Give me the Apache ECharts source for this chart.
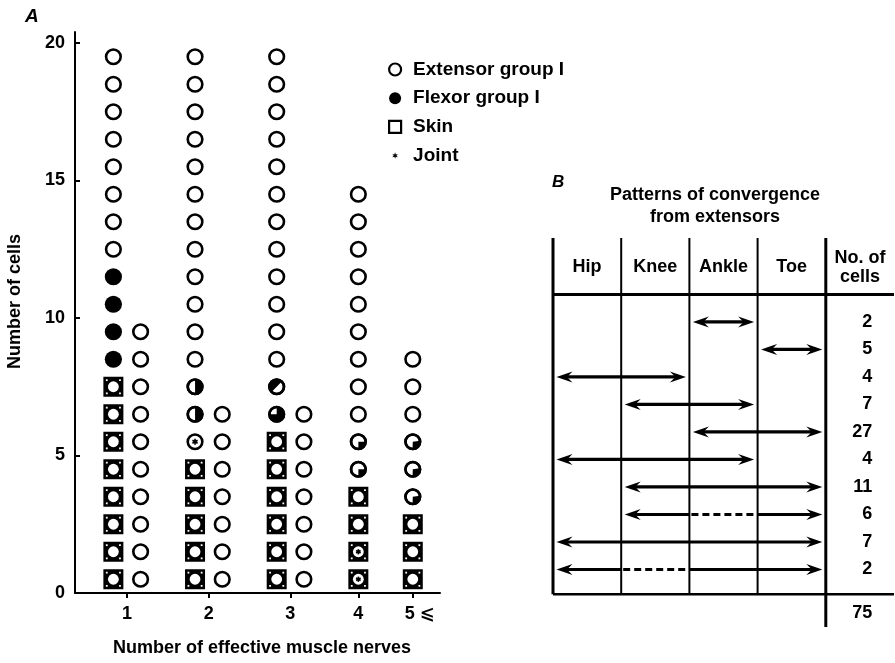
<!DOCTYPE html>
<html><head><meta charset="utf-8">
<script src="https://cdn.jsdelivr.net/npm/echarts@6/dist/echarts.min.js"></script>
<style>html,body{margin:0;padding:0;background:#fff}#c{width:895px;height:663px}</style>
</head><body><div id="c"></div>
<script>
// ---------------- DATA ----------------
// Panel A: marker codes per column, bottom -> top
// E = extensor circle, F = flexor (filled), S = skin (+extensor), J = joint (+extensor),
// SJ = skin + joint, H/Q3/D/Q/W = extensor with partial flexor fill
const groupLabels = ['1', '2', '3', '4', '5 \u2A7D'];
const yTickValues = [0, 5, 10, 15, 20];
const group1Left  = ['S','S','S','S','S','S','S','S','F','F','F','F','E','E','E','E','E','E','E','E'];
const group1Right = ['E','E','E','E','E','E','E','E','E','E'];
const group2Left  = ['S','S','S','S','S','J','H','H','E','E','E','E','E','E','E','E','E','E','E','E'];
const group2Right = ['E','E','E','E','E','E','E'];
const group3Left  = ['S','S','S','S','S','S','Q3','D','E','E','E','E','E','E','E','E','E','E','E','E'];
const group3Right = ['E','E','E','E','E','E','E'];
const group4Marks = ['SJ','SJ','S','S','Q','Q','E','E','E','E','E','E','E','E','E'];
const group5Marks = ['S','S','S','W','W','W','E','E','E'];
const legendNames = ['Extensor group I', 'Flexor group I', 'Skin', 'Joint'];

// Panel B
const bTitle = 'Patterns of convergence\nfrom extensors';
const bColumns = ['Hip', 'Knee', 'Ankle', 'Toe'];
const bCountHeader = 'No. of\ncells';
const patternStart  = [2, 3, 0, 1, 2, 0, 1, 1, 0, 0];
const patternEnd    = [2, 3, 1, 2, 3, 2, 3, 3, 3, 3];
const patternDashed = [null, null, null, null, null, null, null, 2, null, 1];
const cellCounts    = [2, 5, 4, 7, 27, 4, 11, 6, 7, 2];
const cellTotal = 75;

// ---------------- LAYOUT / STYLE ----------------
const FONT = "'Liberation Sans', 'DejaVu Sans', sans-serif";
const groupColumns = [[group1Left, group1Right], [group2Left, group2Right], [group3Left, group3Right], [group4Marks], [group5Marks]];
const columnSlots = [[0, 1], [3, 4], [6, 7], [9], [11]];
const groupTicks = columnSlots.map(s => s.reduce((a, b) => a + b, 0) / s.length);
const seriesCodes = {
  'Extensor group I': ['E'],
  'Flexor group I': ['F', 'H', 'Q3', 'D', 'Q', 'W'],
  'Skin': ['S'],
  'Joint': ['J', 'SJ']
};
const items = [];
groupColumns.forEach((cols, g) => cols.forEach((marks, c) => marks.forEach((code, k) => {
  items.push({ x: columnSlots[g][c], y: k + 0.5, code: code });
})));

const R = 7.3, LW = 2.6;
function whiteDisk(cx, cy) { return { type: 'circle', shape: { cx, cy, r: R }, style: { fill: '#fff', stroke: '#000', lineWidth: LW } }; }
function ring(cx, cy) { return { type: 'circle', shape: { cx, cy, r: R }, style: { fill: null, stroke: '#000', lineWidth: LW } }; }
function sector(cx, cy, a0, a1) { return { type: 'sector', shape: { cx, cy, r: R, r0: 0, startAngle: a0, endAngle: a1, clockwise: true }, style: { fill: '#000' } }; }
function asterisk(cx, cy, s) {
  const out = [];
  [90, 30, 150].forEach(a => {
    const r = a * Math.PI / 180;
    out.push({ type: 'line', shape: { x1: cx - s * Math.cos(r), y1: cy - s * Math.sin(r), x2: cx + s * Math.cos(r), y2: cy + s * Math.sin(r) }, style: { stroke: '#000', lineWidth: 1.6 } });
  });
  out.push({ type: 'circle', shape: { cx, cy, r: 1.4 }, style: { fill: '#000' } });
  return out;
}
function skinBox(cx, cy) {
  const out = [
    { type: 'rect', shape: { x: cx - 10, y: cy - 10, width: 20, height: 20 }, style: { fill: '#000' } },
    { type: 'circle', shape: { cx, cy, r: 5.4 }, style: { fill: '#fff' } }
  ];
  [[-1, -1], [1, -1], [-1, 1], [1, 1]].forEach(d => {
    out.push({ type: 'rect', shape: { x: cx + d[0] * 6.6 - 0.9, y: cy + d[1] * 6.6 - 0.9, width: 1.8, height: 1.8 }, style: { fill: '#fff' } });
  });
  return out;
}
const P = Math.PI;
function drawMark(code, cx, cy) {
  switch (code) {
    case 'E': return [whiteDisk(cx, cy)];
    case 'F': return [{ type: 'circle', shape: { cx, cy, r: R + 1.3 }, style: { fill: '#000' } }];
    case 'S': return skinBox(cx, cy);
    case 'J': return [whiteDisk(cx, cy)].concat(asterisk(cx, cy, 3));
    case 'SJ': return skinBox(cx, cy).concat(asterisk(cx, cy, 2.6));
    case 'H': return [whiteDisk(cx, cy), sector(cx, cy, -P / 2, P / 2), ring(cx, cy)];
    case 'Q3': return [whiteDisk(cx, cy), sector(cx, cy, -P / 2, P), ring(cx, cy)];
    case 'D': return [whiteDisk(cx, cy), sector(cx, cy, 3 * P / 4, 7 * P / 4), ring(cx, cy)];
    case 'Q': return [whiteDisk(cx, cy), sector(cx, cy, 0, P / 2), ring(cx, cy)];
    case 'W': return [whiteDisk(cx, cy), sector(cx, cy, -0.15, 1.6), ring(cx, cy)];
  }
  return [];
}

const markSeries = legendNames.map(name => {
  const subset = items.filter(it => seriesCodes[name].indexOf(it.code) >= 0);
  return {
    type: 'custom', name: name, xAxisIndex: 0, yAxisIndex: 0,
    itemStyle: { color: '#000' },
    data: subset.map(it => [it.x, it.y]),
    encode: { x: 0, y: 1 },
    renderItem: function (params, api) {
      const p = api.coord([api.value(0), api.value(1)]);
      return { type: 'group', children: drawMark(subset[params.dataIndex].code, p[0], p[1]) };
    }
  };
});

// asterisk legend icon (padded so it appears small)
let starPath = 'path://M0,0L0.01,0L0.01,0.01Z M24,24L23.99,24L23.99,23.99Z M';
const starPts = [];
for (let k = 0; k < 12; k++) {
  const a = (-90 + k * 30) * Math.PI / 180, r = k % 2 === 0 ? 6.5 : 2.8;
  starPts.push((12 + r * Math.cos(a)).toFixed(2) + ',' + (12 + r * Math.sin(a)).toFixed(2));
}
starPath += starPts.join('L') + 'Z';

const txt = (size) => ({ fontFamily: FONT, fontWeight: 'bold', fontSize: size, color: '#000' });

// Panel B renderers
function head(tipX, y, dir) {
  const L = 16, W = 5.5, N = 10.5;
  return { type: 'polygon', shape: { points: [[tipX, y], [tipX - dir * L, y - W], [tipX - dir * N, y], [tipX - dir * L, y + W]] }, style: { fill: '#000' } };
}
function hseg(a, b, y, dash, w) {
  return { type: 'line', shape: { x1: a, y1: y, x2: b, y2: y }, style: { stroke: '#000', lineWidth: w || 3.2, lineDash: dash ? [7, 4] : null } };
}
function vseg(x, a, b, w) {
  return { type: 'line', shape: { x1: x, y1: a, x2: x, y2: b }, style: { stroke: '#000', lineWidth: w } };
}
function textEl(s, x, y, align) {
  return { type: 'text', style: { text: s, x: x, y: y, align: align || 'center', verticalAlign: 'middle', fontFamily: FONT, fontWeight: 'bold', fontSize: 18, lineHeight: 19, fill: '#000' } };
}
const B_TOP = -2.05, B_BOTTOM = 10.9, B_MAX = 12.09, COUNT_X = 4.68;

const option = {
  backgroundColor: '#fff',
  animation: false,
  title: [
    { text: 'A', left: 20, top: 2, textStyle: Object.assign(txt(19), { fontStyle: 'italic' }) },
    { text: 'B', left: 547, top: 169, textStyle: Object.assign(txt(17), { fontStyle: 'italic' }) },
    { text: bTitle, left: 710, top: 179, textAlign: 'center', textStyle: Object.assign(txt(18), { lineHeight: 22 }) }
  ],
  legend: {
    orient: 'vertical', left: 383, top: 55, itemWidth: 12, itemHeight: 12, itemGap: 9.7,
    selectedMode: false,
    textStyle: Object.assign(txt(19), { lineHeight: 19, padding: [0, 0, 0, 7] }),
    data: [
      { name: legendNames[0], icon: 'circle', itemStyle: { color: '#fff', borderColor: '#000', borderWidth: 2.2 } },
      { name: legendNames[1], icon: 'circle', itemStyle: { color: '#000', borderWidth: 0 } },
      { name: legendNames[2], icon: 'rect', itemStyle: { color: '#fff', borderColor: '#000', borderWidth: 2.2 } },
      { name: legendNames[3], icon: starPath, itemStyle: { color: '#000', borderWidth: 0 } }
    ]
  },
  grid: [
    { left: 75, top: 32, width: 365, height: 561, outerBoundsMode: 'none' },
    { left: 553, top: 238, width: 341, height: 389, outerBoundsMode: 'none' }
  ],
  xAxis: [
    {
      type: 'value', gridIndex: 0, min: -1.41, max: 12,
      axisLine: { onZero: false, lineStyle: { color: '#000', width: 2 } },
      axisTick: { customValues: groupTicks, length: 5, lineStyle: { color: '#000', width: 2 } },
      axisLabel: {
        customValues: groupTicks, margin: 12, fontFamily: FONT, fontWeight: 'bold', fontSize: 18, color: '#000',
        formatter: function (v) {
          for (let i = 0; i < groupTicks.length; i++) {
            if (Math.abs(groupTicks[i] - v) < 1e-6) return i === groupTicks.length - 1 ? '{s|' + groupLabels[i] + '}' : groupLabels[i];
          }
          return '';
        },
        rich: { s: { padding: [0, 0, 0, 14], fontFamily: FONT, fontWeight: 'bold', fontSize: 18, color: '#000' } }
      },
      splitLine: { show: false },
      name: 'Number of effective muscle nerves', nameLocation: 'middle', nameGap: 46,
      nameTextStyle: Object.assign(txt(18), { padding: [0, 0, 0, 9] })
    },
    { type: 'value', gridIndex: 1, min: 0, max: 5, show: false }
  ],
  yAxis: [
    {
      type: 'value', gridIndex: 0, min: 0, max: 20.4,
      axisLine: { onZero: false, lineStyle: { color: '#000', width: 2 } },
      axisTick: { customValues: yTickValues, inside: true, length: 5, lineStyle: { color: '#000', width: 2 } },
      axisLabel: { customValues: yTickValues, margin: 10, fontFamily: FONT, fontWeight: 'bold', fontSize: 18, color: '#000' },
      splitLine: { show: false },
      name: 'Number of cells', nameLocation: 'middle', nameGap: 51,
      nameTextStyle: Object.assign(txt(18), { padding: [0, 0, 0, 22] })
    },
    { type: 'value', gridIndex: 1, min: B_TOP, max: B_MAX, inverse: true, show: false }
  ],
  series: markSeries.concat([
    {
      type: 'custom', name: 'table', xAxisIndex: 1, yAxisIndex: 1, silent: true,
      data: [[0, 0]],
      renderItem: function (params, api) {
        const c = (x, y) => api.coord([x, y]);
        const top = c(0, B_TOP)[1], bot = c(0, B_BOTTOM)[1], ext = c(0, B_MAX)[1];
        const kids = [];
        [0, 1, 2, 3].forEach(i => kids.push(vseg(c(i, 0)[0], top, bot, i === 0 ? 3 : 2)));
        kids.push(vseg(c(4, 0)[0], top, ext, 3));
        kids.push(hseg(c(0, 0)[0], c(5, 0)[0], c(0, 0)[1], false, 3));
        kids.push(hseg(c(0, 0)[0], c(5, 0)[0], bot, false, 2.5));
        bColumns.forEach((h, i) => kids.push(textEl(h, c(i + 0.5, 0)[0], c(0, -0.98)[1])));
        kids.push(textEl(bCountHeader, c(4.5, 0)[0], c(0, -0.98)[1]));
        kids.push(textEl(String(cellTotal), c(COUNT_X, 0)[0], c(0, 11.6)[1], 'right'));
        return { type: 'group', children: kids };
      }
    },
    {
      type: 'custom', name: 'patterns', xAxisIndex: 1, yAxisIndex: 1, silent: true,
      data: cellCounts.map((n, i) => [patternStart[i], i + 1]),
      renderItem: function (params, api) {
        const i = params.dataIndex;
        const row = api.value(1);
        const y = api.coord([0, row])[1];
        const xAt = col => api.coord([col, row])[0];
        const s = patternStart[i], e = patternEnd[i], d = patternDashed[i];
        const x1 = xAt(s) + 3.5, x2 = xAt(e + 1) - 3.5;
        const kids = [];
        if (d == null) {
          kids.push(hseg(x1 + 6, x2 - 6, y, false));
        } else {
          kids.push(hseg(x1 + 6, xAt(d), y, false));
          kids.push(hseg(xAt(d) + 2, xAt(d + 1) - 3, y, true));
          kids.push(hseg(xAt(d + 1), x2 - 6, y, false));
        }
        kids.push(head(x1, y, -1), head(x2, y, 1));
        kids.push(textEl(String(cellCounts[i]), xAt(COUNT_X), y, 'right'));
        return { type: 'group', children: kids };
      }
    }
  ])
};

const chart = echarts.init(document.getElementById('c'), null, { renderer: 'canvas' });
chart.setOption(option);
</script>
</body></html>
